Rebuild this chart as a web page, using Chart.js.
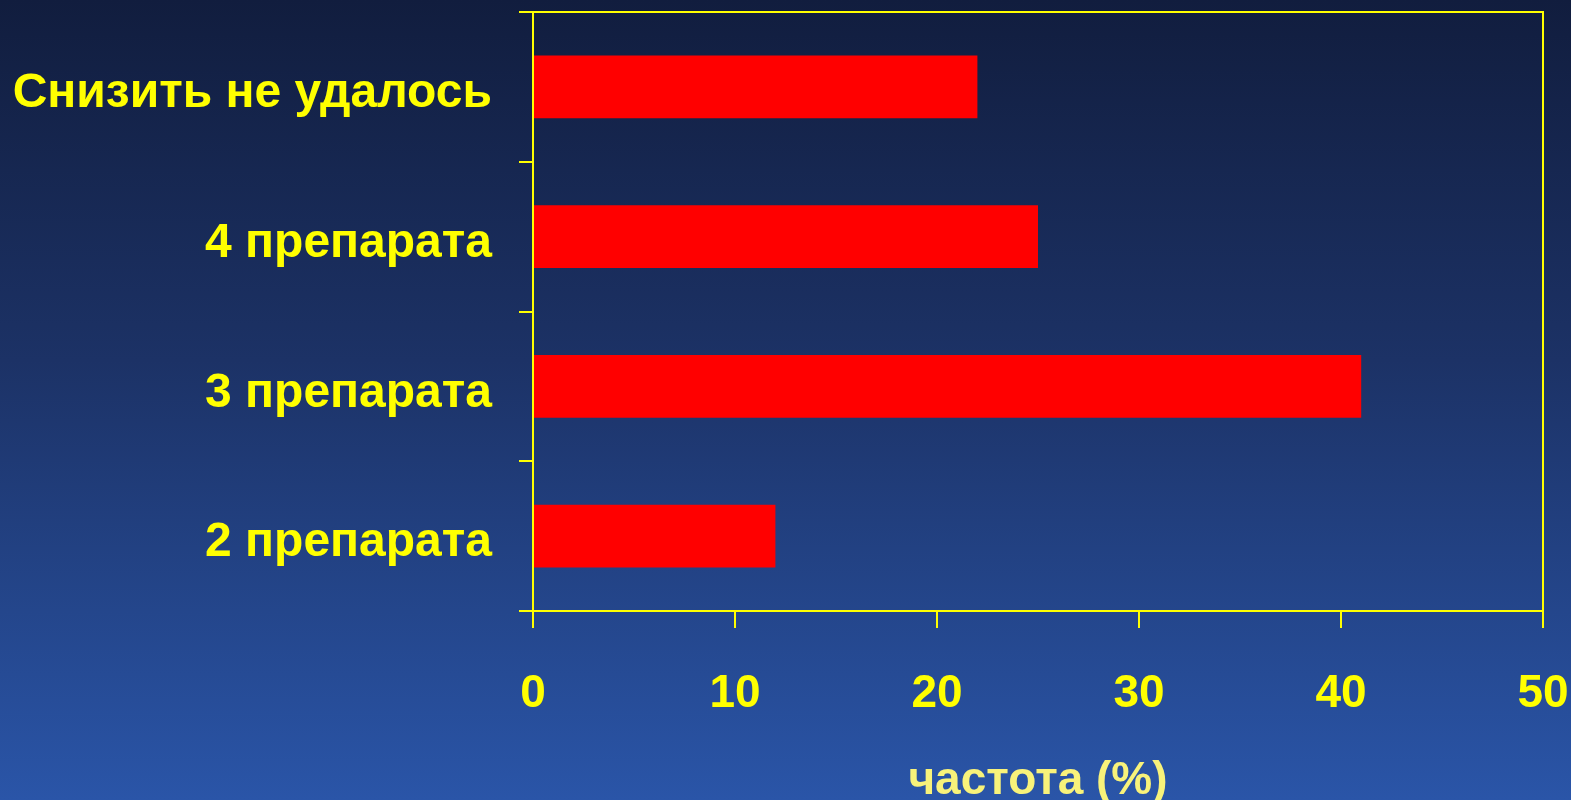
<!DOCTYPE html>
<html>
<head>
<meta charset="utf-8">
<script src="https://cdn.jsdelivr.net/npm/chart.js@4/dist/chart.umd.min.js"></script>
<style>
  html, body { margin: 0; padding: 0; }
  body {
    width: 1571px;
    height: 800px;
    background: linear-gradient(to bottom, #111d3e 0%, #1c3266 45%, #2a55a8 100%);
    overflow: hidden;
  }
  canvas { display: block; }
</style>
</head>
<body>
<canvas id="drugChart" width="1571" height="800"></canvas>
<script>
const categories = ["Снизить не удалось", "4 препарата", "3 препарата", "2 препарата"];
const frequency = [22, 25, 41, 12];
const xTicks = [0, 10, 20, 30, 40, 50];

const YELLOW = "#ffff00";

// closes the plot frame along the top and right edges
const framePlugin = {
  id: "frame",
  afterDraw(chart) {
    const { ctx, chartArea } = chart;
    ctx.save();
    ctx.strokeStyle = YELLOW;
    ctx.lineWidth = 2;
    ctx.beginPath();
    ctx.moveTo(chartArea.left - 14, chartArea.top);
    ctx.lineTo(chartArea.right, chartArea.top);
    ctx.lineTo(chartArea.right, chartArea.bottom);
    ctx.stroke();
    ctx.restore();
  },
};

document.addEventListener("DOMContentLoaded", function () {
  const ctx = document.getElementById("drugChart").getContext("2d");

  new Chart(ctx, {
    type: "bar",
    data: {
      labels: categories,
      datasets: [
        {
          data: frequency,
          backgroundColor: "#ff0000",
          borderWidth: 0,
          barPercentage: 0.42,
          categoryPercentage: 1,
        },
      ],
    },
    options: {
      indexAxis: "y",
      responsive: false,
      animation: false,
      layout: {
        padding: { left: 0, top: 12, right: 28, bottom: 0 },
      },
      plugins: {
        legend: { display: false },
        tooltip: { enabled: false },
      },
      scales: {
        y: {
          type: "category",
          grid: {
            offset: true,
            drawOnChartArea: false,
            color: YELLOW,
            lineWidth: 2,
            tickLength: 14,
          },
          border: { color: YELLOW, width: 2 },
          ticks: {
            color: YELLOW,
            padding: 27,
            labelOffset: 7,
            font: { family: "Liberation Sans", weight: "bold", size: 48 },
          },
          afterFit(scale) {
            scale.width = 533;
            scale.paddingTop = 0;
            scale.paddingBottom = 0;
          },
        },
        x: {
          min: 0,
          max: 50,
          afterBuildTicks(scale) {
            scale.ticks = xTicks.map((v) => ({ value: v }));
          },
          grid: {
            drawOnChartArea: false,
            color: YELLOW,
            lineWidth: 2,
            tickLength: 17,
          },
          border: { color: YELLOW, width: 2 },
          ticks: {
            color: YELLOW,
            padding: 43,
            font: { family: "Liberation Sans", weight: "bold", size: 46, lineHeight: 1 },
          },
          title: {
            display: true,
            text: "частота (%)",
            color: "#f8f27a",
            padding: { top: 0, bottom: 0 },
            font: { family: "Liberation Sans", weight: "bold", size: 46, lineHeight: 0.8 },
          },
          afterFit(scale) {
            scale.height = 189;
            scale.paddingLeft = 0;
            scale.paddingRight = 0;
          },
        },
      },
    },
    plugins: [framePlugin],
  });
});
</script>
</body>
</html>
